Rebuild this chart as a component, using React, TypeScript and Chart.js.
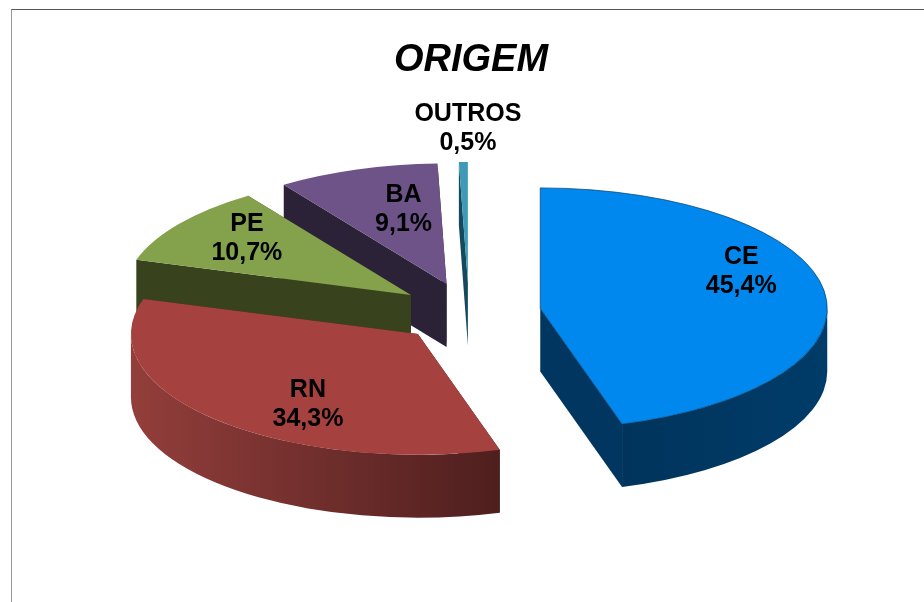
import React, { useEffect, useRef } from "react";
import { Chart, registerables } from "chart.js";

Chart.register(...registerables);

const categories = ["CE", "RN", "PE", "BA", "OUTROS"];
const shares = [45.4, 34.3, 10.7, 9.1, 0.5];
const topColors = ["#0088ee", "#a5423f", "#84a24c", "#6e5389", "#3f9ab5"];
const wallStartColors = ["#003c69", "#933e3b", "#344019", "#2c2238", "#154a5e"];
const wallEndColors = ["#00345c", "#4e1f1e", "#344019", "#2c2238", "#154a5e"];
const faceColors = ["#00365f", "#4e1f1e", "#38431d", "#2c2238", "#154a5e"];
const labelNudges = [
  [201, -37],
  [-110, 70],
  [-164, -56],
  [-43, -74],
  [0, -154],
];
const drawOrder = [4, 3, 2, 0, 1];

const SQUASH = 0.42;
const DEPTH = 63;
const EXPLODE = 72;
const SHIFT_X = -2;
const RADIUS = 287;

const pie3d = {
  id: "pie3d",
  beforeDatasetsDraw(chart: any) {
    const ctx: CanvasRenderingContext2D = chart.ctx;
    const arcs = chart.getDatasetMeta(0).data;
    for (const i of drawOrder) {
      const el = arcs[i];
      const mid = (el.startAngle + el.endAngle) / 2;
      const cx = el.x + SHIFT_X + Math.cos(mid) * EXPLODE;
      const cy = el.y + Math.sin(mid) * EXPLODE * SQUASH;
      const r = el.outerRadius;
      const rk = r * SQUASH;
      const px = (a: number) => cx + r * Math.cos(a);
      const py = (a: number) => cy + rk * Math.sin(a);

      // radial cut faces
      ctx.fillStyle = faceColors[i];
      for (const a of [el.startAngle, el.endAngle]) {
        ctx.beginPath();
        ctx.moveTo(cx, cy);
        ctx.lineTo(px(a), py(a));
        ctx.lineTo(px(a), py(a) + DEPTH);
        ctx.lineTo(cx, cy + DEPTH);
        ctx.closePath();
        ctx.fill();
      }

      // outer curved wall, front half only
      const a0 = Math.max(el.startAngle, 0);
      const a1 = Math.min(el.endAngle, Math.PI);
      if (a1 > a0) {
        const g = ctx.createLinearGradient(
          Math.min(px(a0), px(a1)), 0, Math.max(px(a0), px(a1)), 0,
        );
        const leftToRight = i === 1;
        g.addColorStop(0, leftToRight ? wallStartColors[i] : wallEndColors[i]);
        g.addColorStop(1, leftToRight ? wallEndColors[i] : wallStartColors[i]);
        ctx.fillStyle = g;
        ctx.beginPath();
        ctx.ellipse(cx, cy, r, rk, 0, a0, a1);
        ctx.ellipse(cx, cy + DEPTH, r, rk, 0, a1, a0, true);
        ctx.closePath();
        ctx.fill();
      }

      // top face: the library's own arc, squashed and moved out
      ctx.save();
      ctx.translate(cx, cy);
      ctx.scale(1, SQUASH);
      ctx.translate(-el.x, -el.y);
      el.draw(ctx);
      ctx.restore();
    }

    // labels
    ctx.save();
    ctx.fillStyle = "#000000";
    ctx.font = 'bold 25px "Liberation Sans", Arial, sans-serif';
    ctx.textAlign = "center";
    ctx.textBaseline = "middle";
    arcs.forEach((el: any, i: number) => {
      const mid = (el.startAngle + el.endAngle) / 2;
      const cx = el.x + SHIFT_X + Math.cos(mid) * EXPLODE;
      const cy = el.y + Math.sin(mid) * EXPLODE * SQUASH;
      const x = cx + labelNudges[i][0];
      const y = cy + labelNudges[i][1];
      ctx.fillText(categories[i], x, y - 14.5);
      ctx.fillText(shares[i].toFixed(1).replace(".", ",") + "%", x, y + 14.5);
    });
    ctx.restore();
    return false;
  },
};

export default function App() {
  const ref = useRef<HTMLCanvasElement>(null);
  useEffect(() => {
    const chart = new Chart(ref.current as HTMLCanvasElement, {
      type: "pie",
      data: {
        labels: categories,
        datasets: [
          {
            data: shares,
            backgroundColor: topColors,
            borderWidth: [1, 0, 0, 0, 0],
            borderColor: "#00406e",
          },
        ],
      },
      options: {
        responsive: false,
        animation: false,
        radius: RADIUS,
        layout: { padding: { left: 18, bottom: 60 } },
        plugins: {
          legend: { display: false },
          tooltip: { enabled: false },
          title: {
            display: true,
            text: "ORIGEM",
            color: "#000000",
            font: {
              family: '"Liberation Sans", Arial, sans-serif',
              size: 38,
              weight: "bold",
              style: "italic",
            },
            padding: { top: 38, bottom: 0 },
          },
        },
      } as any,
      plugins: [pie3d as any],
    });
    return () => chart.destroy();
  }, []);
  return (
    <div style={{ position: "fixed", inset: 0, overflow: "hidden", background: "#fff" }}>
      <canvas
        ref={ref}
        width={924}
        height={602}
        style={{ position: "absolute", left: 0, top: 0, display: "block" }}
      />
      <div
        style={{
          position: "absolute",
          left: 11,
          top: 9,
          right: 0,
          bottom: 0,
          borderTop: "1px solid #555555",
          borderLeft: "1px solid #999999",
          pointerEvents: "none",
        }}
      />
    </div>
  );
}
